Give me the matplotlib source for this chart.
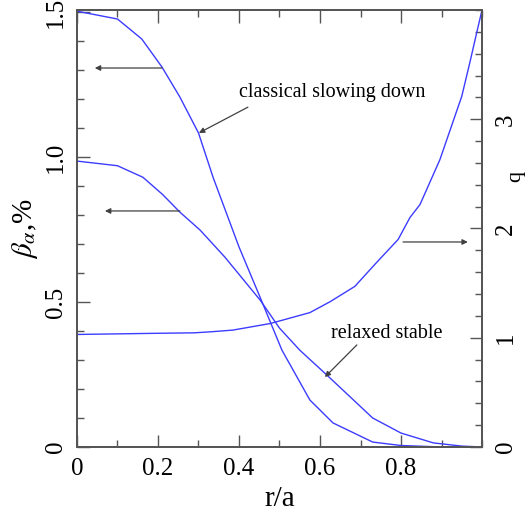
import matplotlib
matplotlib.use("Agg")
import matplotlib.pyplot as plt
from matplotlib.ticker import MultipleLocator, FixedLocator

plt.rcParams["font.family"] = ["Liberation Serif", "DejaVu Serif"]
plt.rcParams["mathtext.fontset"] = "stix"

# classical slowing down beta profile (left axis)
r_classical = [0, 0, 0.1, 0.16, 0.21, 0.254, 0.3, 0.336, 0.4, 0.457, 0.506,
               0.575, 0.632, 0.73, 0.8, 0.9, 1.0]
beta_classical = [0.986, 1.503, 1.476, 1.407, 1.31, 1.207, 1.083, 0.93, 0.69,
                  0.5, 0.334, 0.162, 0.083, 0.017, 0.005, 0.0, 0.0]

# relaxed stable beta profile (left axis)
r_relaxed = [0, 0.1, 0.163, 0.212, 0.254, 0.304, 0.365, 0.452, 0.5, 0.55,
             0.617, 0.73, 0.8, 0.88, 0.95, 1.0]
beta_relaxed = [0.986, 0.97, 0.93, 0.87, 0.81, 0.748, 0.655, 0.507, 0.41,
                0.334, 0.248, 0.10, 0.048, 0.014, 0.003, 0.0]

# safety factor profile (right axis)
r_q = [0, 0.185, 0.29, 0.333, 0.385, 0.477, 0.575, 0.625, 0.686, 0.74,
       0.793, 0.822, 0.847, 0.896, 0.95, 0.97, 0.988, 1.0]
q_vals = [1.03, 1.04, 1.045, 1.055, 1.07, 1.13, 1.23, 1.33, 1.47, 1.69,
          1.90, 2.10, 2.22, 2.63, 3.21, 3.52, 3.81, 4.0]

xticks = [0, 0.2, 0.4, 0.6, 0.8]
xlabels = ["0", "0.2", "0.4", "0.6", "0.8"]
lticks = [0, 0.5, 1.0, 1.5]
llabels = ["0", "0.5", "1.0", "1.5"]
rticks = [0, 1, 2, 3]
rlabels = ["0", "1", "2", "3"]

line_col = "#3c3cff"
spine_col = "#555555"
arrow_col = "#404040"

fig = plt.figure(figsize=(5.28, 5.14), dpi=100)
ax = fig.add_axes([0.1458, 0.1304, 0.7671, 0.8501])
ax2 = ax.twinx()

ax.plot(r_classical, beta_classical, color=line_col, lw=1.0)
ax.plot(r_relaxed, beta_relaxed, color=line_col, lw=1.0)
ax2.plot(r_q, q_vals, color=line_col, lw=1.0)

ax.set_xlim(0, 1)
ax.set_ylim(0, 1.507)
ax2.set_ylim(0, 4.0)

for a in (ax, ax2):
    for s in a.spines.values():
        s.set_color(spine_col)
        s.set_linewidth(1.3)
    a.tick_params(which="both", direction="in", color=spine_col, width=1.0)
    a.tick_params(which="major", length=9)
    a.tick_params(which="minor", length=5)

ax.xaxis.set_major_locator(FixedLocator(xticks))
ax.set_xticklabels(xlabels)
ax.xaxis.set_minor_locator(MultipleLocator(0.1))
ax.set_yticks(lticks)
ax.set_yticklabels(llabels, rotation=90, va="center")
ax.yaxis.set_minor_locator(MultipleLocator(0.1))
ax2.set_yticks(rticks)
ax2.set_yticklabels(rlabels, rotation=90, va="center")
ax2.yaxis.set_minor_locator(MultipleLocator(0.2))

ax.tick_params(axis="x", which="both", top=True, labelsize=18, pad=8)
ax.tick_params(axis="y", which="both", right=False, labelsize=18, pad=7.5)
ax2.tick_params(axis="y", labelsize=18, pad=9.5)

ax.set_xlabel("r/a", fontsize=21, labelpad=4)
ax.set_ylabel(r"$\beta_\alpha$,%", fontsize=21, labelpad=3)
ax2.set_ylabel("q", fontsize=16, va="center")
ax2.yaxis.set_label_coords(1.083, 0.62)

aprops = dict(arrowstyle="-|>", color=arrow_col, lw=0.9, mutation_scale=8,
              shrinkA=0, shrinkB=0)
ax.annotate("", xy=(0.044, 1.307), xytext=(0.21, 1.307), arrowprops=aprops)
ax.annotate("", xy=(0.069, 0.814), xytext=(0.254, 0.814), arrowprops=aprops)
ax.annotate("", xy=(0.301, 1.083), xytext=(0.422, 1.172), arrowprops=aprops)
ax.annotate("", xy=(0.965, 0.707), xytext=(0.805, 0.707), arrowprops=aprops)
ax.annotate("", xy=(0.612, 0.241), xytext=(0.691, 0.352), arrowprops=aprops)

ax.text(0.40, 1.221, "classical slowing down", fontsize=14.5,
        ha="left", va="center")
ax.text(0.627, 0.39, "relaxed stable", fontsize=14.5, ha="left", va="center")

fig.savefig("out.png", dpi=100)
